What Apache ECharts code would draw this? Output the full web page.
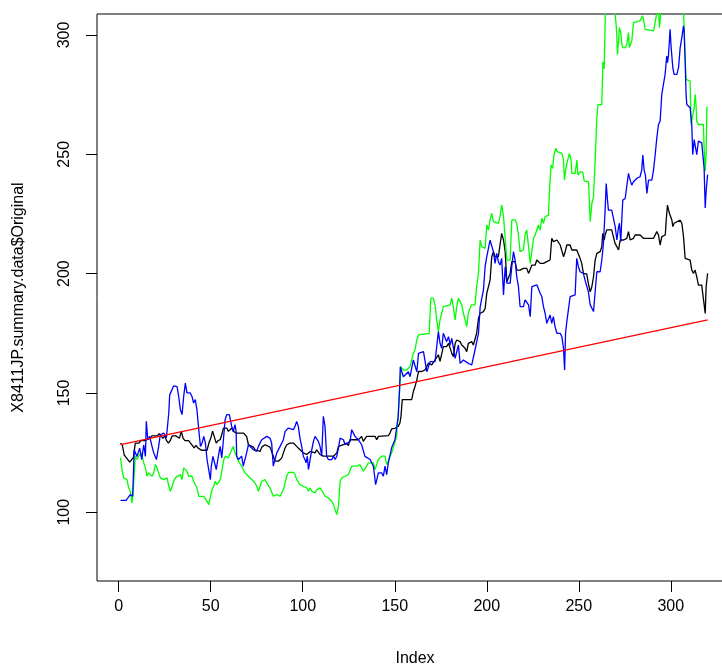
<!DOCTYPE html>
<html>
<head>
<meta charset="utf-8">
<script src="https://cdn.jsdelivr.net/npm/echarts@6/dist/echarts.min.js"></script>
<style>
  html, body { margin: 0; padding: 0; background: #fff; }
  #chart { width: 722px; height: 670px; }
</style>
</head>
<body>
<div id="chart"></div>
<script>
// tick labels
const xTicks = [0, 50, 100, 150, 200, 250, 300]
const yTicks = [100, 150, 200, 250, 300]

// [index, value]
const originalData = [
  [1,129],[2,128],[3,124],[4,123],[5,123],[6,121],[7,121],[8,123],[9,129],[11,129],[12,130],[14,130],[15,130],[17,131],[18,132],[19,132],[21,132],[22,133],[23,132],[24,131],[25,132],[26,130],[27,129],[28,130],[29,132],[31,132],[33,131],[34,134],[35,131],[36,130],[38,130],[39,129],[40,128],[41,127],[42,128],[43,127],[44,127],[45,126],[48,126],[49,129],[50,131],[51,134],[52,134],[53,129],[54,130],
  [55.1,130.4],[56,132.5],[56.9,135.3],[57.8,134.6],[58.7,135.3],[59.6,133.9],[60.5,134.6],[61.4,135.3],[62.3,133.9],[64.1,133.2],[65,133.5],[67.7,133.2],[68.6,132.5],[69.5,131.8],[70.5,128.3],[71.4,127.6],[73.2,127.3],[74.1,126.2],[75,125.5],[76.8,125.5],[77.7,127.3],[79.5,128.3],[80.4,128.3],[82.2,127.3],[83.1,125.5],[84,123.5],[84.9,121.4],[86.8,121.4],[87.7,122.1],[88.6,122.8],[89.5,124.9],[90.4,126.9],[91.3,128.3],[93.1,129],[94,128.3],[94.9,129],[96.7,127.6],[98.5,126.2],[100.3,124.9],[101.2,125.5],[102.2,124.2],[103.1,123.5],[104,125.5],[104.9,125.5],[106.7,124.9],[107.6,126.2],[108.5,125.5],[109.4,124.2],[111.2,123.5],[114.9,123.5],[115.8,122.8],[116.7,123.5],[117.6,122.8],[118.5,124.9],[119.4,127.6],[120.3,128.3],[122.1,128.3],[123.9,129],[124.8,127.9],[125.7,130.4],
  [126.6,130.4],[128.4,130.4],[130.2,130.4],[131.1,131.1],[132,131.8],[132.9,129.7],[133.8,128.9],[134.7,131.8],[135.6,132.1],[139.3,131.8],[140.2,130.4],[141.1,131.8],[146.5,132.1],[147.4,133.2],[148.3,134.9],[150.1,135.2],[151,134.9],[151.9,136],[152.8,137.4],[153.4,140.2],[153.8,144.4],[154.1,147.2],[157.4,147.2],[158.3,147.9],[159.2,147.2],[160.1,150.6],[161,152.7],[162,155.5],[162.9,159],[164.7,159],[166.5,159.7],[167.4,161.1],[168.3,162.5],[169.2,162.5],[170.1,161.8],[171,162.5],[171.9,163.9],[172.8,164.6],[173.7,166],[174.6,163.2],[175.5,162.5],
  [176.4,169.4],[178.2,169.4],[179.2,170.8],[180.1,168.7],[181,166.6],[181.9,165.2],[182.8,170.8],[183.7,172.2],[184.6,172.9],[185.5,171.5],[186.4,170.1],[187.3,169.4],[188.2,168.7],[189.1,167.3],[190,170.8],[191.8,171.5],[192.7,170.1],[193.6,170.8],[194.5,175],[195.5,181.3],
  [196.4,183.4],[198.2,184.1],[199.1,185.4],[200,191.7],[200.9,192.4],[201.8,197.3],[202.7,207.1],[203.6,209.2],[204.5,207.1],[206.3,207.1],[207.2,212],[208.1,216.9],[209.1,214.1],[210,209.2],[210.9,196.6],[211.8,197.3],[212.7,200.1],[213.6,205],[214.5,204.3],[215.4,205],[216.3,201.5],[217.2,202.2],[218.1,201.5],[219.9,202.2],[220.8,202.9],[221.7,202.2],[222.7,200.1],[223.6,199.4],[224.5,203.6],[225.4,202.9],[226.3,203.6],[227.2,205.7],[228.1,205],[229,204.3],[229.9,205],[230.8,204.3],[231.7,203.6],[232.6,205],[234.4,205.7],[235.3,214.8],[236.2,213.4],[237.1,212.7],[238.1,214.1],[239,213.4],[239.9,212],[240.8,212.7],[241.7,207.1],[242.6,209.2],[243.5,212],[245.3,212],[246.2,209.9],[247.1,209.2],[248.9,209.9],[249.8,209.2],
  [250.7,206.4],[251.6,204.3],[252.5,200.1],[254.3,199.9],[255.2,195.9],[256.2,192.4],[257.1,194.5],[258,198.7],[258.9,205.7],[259.8,208.5],[261.6,209.2],[262.5,211.3],[263,216.9],[263.8,214.1],[264.3,216.2],[265.2,218.3],[266.1,219],[267.9,218.3],[268.8,217.6],[269.7,212.7],[270.7,211.3],[271.6,209.9],[272.5,214.1],[274.3,214.1],[276.1,214.8],[277,217.6],[277.9,214.1],[279.7,214.8],[280.6,216.2],[283.3,216.2],[284.2,215.5],[285.1,214.8],[286,214.1],[287,214.8],[290.6,214.8],[291.5,215.5],[292.4,217.6],[293.3,216.2],[294.2,212],[295.1,215.5],[296,216.2],[297,216.2],[297.5,222.4],[298.2,228.7],[298.8,226.6],[299.3,225.2],[300,225.9],[300.6,222.4],[301.1,219.7],[301.8,221.1],[302.4,221.8],[305.1,222.4],[306,221.1],[306.9,215.5],[307.8,206.4],[308.7,206.4],[310.5,205.7],[311.4,201.5],[312.3,200.1],[313.2,201.5],[314.1,198.7],[315,195.2],[315.9,194.5],[316.8,195.2],[317.7,194.5],[318.7,183.3],[319.2,194.5],[320,200.1]
]

const greenData = [
  [1,122.8],[1.8,117.9],[2.7,114.4],[4.5,113.7],[5.4,110.2],[6.3,108.8],[7.2,103.9],[7.8,108.1],[8.5,116.5],[9,123.5],[9.9,122.1],[10.8,123.5],[11.4,122.8],[12.1,124.9],[12.7,123.5],[13.6,120.7],[14.5,118.6],[15.4,115.1],[16.3,116.5],[17.2,115.8],[18.1,115.1],[19,116.5],[19.9,120],[20.8,118.6],[21.7,116.5],[22.6,114.4],[23.5,115.1],[24.4,113.7],[26.3,114.4],[27.2,110.9],[28.1,108.8],[29,110.9],[29.9,113],[30.8,114.4],[31.7,115.1],[33.5,115.8],[34.4,113.7],[35.3,118.6],[36.2,119.3],[37.1,117.2],[38,115.1],[38.9,114.4],[39.8,115.1],[40.7,113],[41.6,112.3],[42.5,110.2],[43.5,106.7],[44.4,106],[46.2,106.7],[47.1,107.4],[48,104.6],[48.9,103.2],[49.8,103.9],[50.7,109.5],[51.6,110.9],[52.5,113],[53.4,111.6],[54.3,112.3],[55.2,113.7],[56.1,114.4],[57.1,122.1],[57.9,123.5],[58.9,123.5],
  [59.6,122.8],[60.5,122.8],[61.4,126.2],[62.3,127.6],[63.2,124.9],[64.1,123.5],[65,121.4],[65.9,120.7],[66.8,119.3],[67.7,118.6],[68.6,116.5],[69.5,115.8],[70.5,115.1],[71.4,115.8],[72.3,113.7],[73.2,113.7],[74.1,112.3],[75,110.9],[75.9,108.8],[76.8,108.8],[77.7,113],[78.6,113.7],[79.5,113.7],[80.4,112.3],[81.3,111.6],[82.2,110.2],[83.1,109.5],[84,106.7],[84.9,106.7],[85.9,107.4],[86.8,106.7],[87.7,106.7],[88.6,107.4],[89.5,109.5],[90.4,109.5],[91.3,115.1],[92.2,116.7],[95,116.7],[95.8,115.8],[96.7,113.7],[97.6,113],[98.5,111.6],[99.4,111.6],[100.3,110.9],[101.2,110.2],[102.2,110.2],[103.1,108.8],[104,110.2],[104.9,108.8],[105.8,108.1],[106.7,108.1],[107.6,109.5],[108.5,110.2],[109.4,110.2],[110.3,109.5],[111.2,108.1],[112.1,106.7],[113,106.7],[114,106],[114.9,105.3],[115.8,104.6],[116.7,103.2],[117.6,102.5],[118.5,99],[119.4,102.5],[120.3,113],[121.2,114.4],[122.1,114.4],[123,115.1],[123.9,115.8],[124.8,115.8],[125.7,116.5],
  [126.6,119.3],[129.3,119.3],[131.1,120],[132,120.7],[132.9,117.2],[133.8,117.9],[134.7,119.3],[135.6,120.7],[136.5,121.4],[138.4,120.7],[139.3,117.9],[140.2,120],[141.1,122.1],[142.9,123.5],[144.7,123.5],[145.6,120],[146.5,121.4],[147.4,123.5],[148.3,124.9],[149.2,127],[150.1,127.7],[151,131.8],[151.9,141.6],[152.4,148.6],[152.9,154.1],
  [153.4,161],[153.9,160.3],[154.7,159.6],[156.5,159.6],[157.4,160.3],[158.3,161],[159.2,163.8],[160.1,166.6],[161,168],[162,172.2],[162.9,174.3],[163.8,175],[168.7,175],[169.2,183.4],[169.6,189.7],[171,189.7],[171.9,186.9],[172.8,180.6],[173.7,175.7],[174.6,180.6],[175.5,183.4],[176.4,186.2],[177.3,186.9],[180.1,186.9],[181,189.7],[181.9,185.5],[182.8,180.6],[183.7,186.2],[184.6,189.7],[185.5,189.7],[186.4,186.9],[187.3,183.4],[188.2,180.6],[189.1,177.8],[190,183.4],[190.9,185.5],[191.8,186.9],[193.6,186.9],[194.5,194.6],[195.5,200.2],
  [196.4,214.1],[197.3,211.3],[198.2,210.6],[199.1,210.6],[200,220.4],[200.9,218.3],[201.8,222.5],[202.7,225.3],[203.6,221.8],[204.5,221.1],[206.3,221.1],[207.2,223.9],[208.1,228.8],[209.1,223.9],[210,214.8],[210.9,205.7],[212.7,205.7],[213.6,222.5],[215.4,222.5],[216.3,221.1],[217.2,216.2],[218.1,209.2],[219.9,209.9],[220.8,216.2],[221.7,218.3],[222.7,211.3],[223.6,204.3],[224.5,209.2],[225.4,214.8],[226.3,216.2],[227.2,218.3],[228.1,220.4],[229,218.3],[229.9,223.2],[230.8,221.1],[231.7,223.9],[233.5,224.5],
  [234.4,239.2],[234.9,245.5],[235.8,244.1],[236.5,249.7],[237.6,252.5],[238.3,251.1],[238.9,250.4],[240.8,250.4],[241.7,247.6],[242.2,239.2],[243.1,244.8],[243.8,245.5],[244.9,250.4],[245.3,251.1],[245.8,247.6],[246.2,242],[248,242],[249,247.6],[249.5,241.3],[250.8,242.7],[252.2,242.4],[252.9,238.9],[255.3,238.5],[256.2,221.8],[257.1,229.4],[258,232.2],[258.9,247.6],[259.8,265],[260.4,270.8],[262.5,270.8],[263.1,288.7],[263.8,285.9],[264.5,312],
  [266,318],[268,316],[269.7,308.7],[270.3,304.5],[270.7,298.9],[271,291.9],[271.6,297.5],[272.1,303.1],[272.8,301],[273.4,296.1],[273.9,294.7],[275.3,294.7],[276.1,296.1],[277,301],[277.5,294.7],[278.3,295.4],[278.8,297.5],[279.7,305.2],[280.6,305.9],[283.3,305.9],[284.2,306.6],[284.7,308],[285.5,305.2],[286,302.4],[287,301.7],[290.6,301.7],[291.5,305.2],[292.4,309.5],[293.3,311],[293.8,303.1],[294.2,305.9],[294.6,310],[297,313],[300,316],[304,313],[306.9,310],[307.2,304.5],[307.8,290.5],[308.3,281.4],[309.1,280.7],[310.5,280.7],[311,262.5],[311.9,262.5],[312.7,269.5],[313.2,275.1],[313.7,270.9],[314.1,263.9],[315,262.5],[317.7,262.5],[318.1,252.7],[318.7,242.9],[319.2,249.9],[319.6,269.5],[320,270]
]

const blueData = [
  [1,105],[4,105],[6.3,107.4],[7.6,106.7],[8.4,126.2],[9,126.9],[9.9,123.4],[11.4,126.9],[12.5,122.1],[13.6,128.3],[14.5,123.4],[15,138.1],[15.8,130.4],[16.8,131.8],[18.1,127.6],[19,124.9],[20.5,122.1],[21.7,127.6],[22.6,132.5],[24.5,133.2],[25.9,131.1],[27.2,141.6],[27.7,149.2],[28.4,150],[29.9,153],[31.7,152.7],[32.6,148.5],[33.5,143],[34.4,140.9],[35.3,148.5],[36.2,154.1],[37.1,150],[38.9,150],[39.8,148.5],[40.7,145.8],[41.6,147.2],[42.5,143],[43.5,134.6],[44.4,127.6],[45.3,129],[46.2,131.8],[47.1,129],[48,122.1],[48.9,117.9],[49.8,113.7],[50.3,119.2],[51.2,123.4],[51.9,123.4],[53,117.9],[54.3,124.2],
  [55.1,127.6],[56,122.8],[56.9,130.4],[57.8,138.8],[58.7,140.9],[60.1,140.9],[61.4,136],[62.3,133.9],[63.2,136.7],[63.8,133.9],[64.1,123.5],[65,122.1],[65.9,122.1],[66.8,123.5],[67.7,119.3],[68.6,119.3],[69.5,124.9],[70.5,128.3],[71.4,129],[73.2,126.2],[75,125.5],[75.9,127.6],[76.8,126.9],[77.7,130.4],[78.6,131.1],[80.4,131.8],[82.2,131.1],[83.1,129],[84,119.3],[84.9,122.1],[85.9,124.9],[87.7,127.6],[88.6,128.3],[89.5,130.4],[90.4,133.9],[91.3,134.6],[92.2,135.3],[94.9,134.6],[95.8,136],[96.7,138.1],[97.6,136],[98.5,131.1],[99.4,127.6],[100.3,123.5],[101.2,122.1],[101.8,120.7],[102.5,123.5],[103.1,117.9],[104,122.1],[104.9,126.2],[105.8,129.7],[106.7,131.8],[107.6,131.8],[108.5,129.7],[109.4,127.6],[110.3,123.5],[111.2,140.2],[112.1,136],[113,123.5],[113.9,122.1],[114.9,122.8],[115.8,122.1],[116.7,123.5],[117.6,122.1],[118.5,123.5],[119.4,126.9],[120.3,131.1],[122.1,130.4],[123,128.3],[123.9,129],[125.7,129.7],
  [126.6,134.6],[128.4,131.8],[130.2,130.4],[132,128.3],[133.8,123.4],[136.6,122.1],[138.4,119.3],[139.6,111.6],[141.1,116.5],[142.9,116.5],[143.8,115.1],[144.7,119.3],[145.6,115.8],[146.5,120.7],[148.3,127],[150.1,130.4],[151.9,140.2],[152.6,151.3],
  [153,161],[154.7,156.8],[157.4,158.9],[158.3,156.8],[160.1,163.8],[162,158.9],[162.9,166.6],[165.6,167.3],[167.4,158.9],[169.2,163.1],[171.9,163.1],[173.7,175.7],[174.6,170.8],[175.5,168.7],[176.4,175],[178.2,171.5],[179.2,173.6],[180.1,170.1],[181,172.9],[182.8,164.5],[184.6,170.1],[185.5,162.4],[187.3,163.8],[190,162.4],[191.8,161.7],[193.6,168],[194.5,168.7],[195.5,175],
  [196.4,186],[197.3,189.7],[198.2,193.2],[199.1,202.9],[200,207.1],[201.8,214],[202.7,214.8],[203.6,209.2],[204.5,204.3],[205.4,208.5],[206.3,205],[207.2,203.6],[208.1,206.4],[209.1,191.1],[210,202.9],[210.9,196],[212.7,196],[213.6,202.9],[214.5,209.2],[215.4,205.7],[216.3,198.7],[217.2,194.6],[218.1,186.2],[219.9,186.2],[220.8,189],[221.7,189],[222.7,186.9],[223.6,182],[224.5,194.6],[225.4,195.3],[227.2,195.3],[228.1,194.6],[229,191.8],[229.9,190.4],[230.8,186.2],[231.7,183.4],[232.6,179.2],[233.5,179.2],[234.4,182.7],[235.3,179.2],[236.2,182],[237.1,177.8],[238.1,175],[239.9,175],[240.8,173.6],[241.7,168.7],[242.3,159.6],[242.8,175],[243.5,179.9],[244.4,179.2],[245.3,190.4],[246.2,191.1],[248,191.1],[248.9,206.4],[249.8,202.9],
  [250.7,200.8],[252.5,200.1],[253.4,197.3],[254.3,197.3],[255.2,192.4],[256.2,186.9],[257.1,186.9],[258,184.1],[258.9,192.4],[259.8,200.8],[261.6,200.8],[262.5,205.7],[263.4,212.7],[264.3,226.6],[264.9,237.8],[265.6,230.8],[266.1,226.6],[267.9,226.6],[268.8,225.9],[269.8,219.6],[270.7,214.1],[271.6,219.6],[272.1,221.1],[272.8,213.4],[273.9,230.8],[275.2,231.5],[276.1,232.2],[277,242],[277.9,239.2],[278.8,237.1],[279.7,238.5],[281.5,239.9],[283.3,240.6],[284.2,243.4],[284.8,249.7],[285.5,243.4],[286.2,241.3],[287,233.6],[287.9,239.2],[289.7,239.2],[290.6,243.4],[291.5,249.7],
  [292.4,256.9],[293.3,262.5],[294.2,263.9],[295.1,275.1],[296,275.1],[296.9,283.5],[297.8,291.2],[298.2,288.4],[298.7,291.2],[299.3,298.2],[299.6,302.4],[300.2,294.7],[301.1,286.3],[301.8,283.5],[303.3,283.5],[304.2,286.3],[305.1,294.7],[306,298.9],[306.9,303.8],[307.2,302.4],[307.8,289.1],[308.3,275.1],[308.7,270.9],[310.5,269.5],[311.4,262.5],[311.9,249.9],[312.3,252.7],[312.7,256.2],[313.2,255.5],[314.1,249.9],[315,255.5],[316.8,254.8],[317.7,255.5],[318.1,244.3],[318.7,227.5],[319.2,234.5],[320,241.5]
]

// fitted trend line, its two ends
const trendData = [[1, 128.3], [320, 180.6]]

const axisFont = { color: '#000', fontSize: 16, fontFamily: 'Liberation Sans, Arial, sans-serif' }

const option = {
  animation: false,
  backgroundColor: '#fff',
  grid: {
    left: 97,
    top: 14,
    width: 636,
    height: 567,
    show: true,
    borderColor: '#000',
    borderWidth: 1,
    backgroundColor: 'transparent',
    containLabel: false,
    outerBoundsMode: 'none'
  },
  xAxis: {
    type: 'value',
    min: -11.8,
    max: 333.8,
    name: 'Index',
    nameLocation: 'middle',
    nameGap: 70,
    nameTextStyle: axisFont,
    axisLine: { show: false, onZero: false },
    splitLine: { show: false },
    axisTick: { show: true, length: 11, customValues: xTicks, lineStyle: { color: '#000' } },
    axisLabel: Object.assign({ customValues: xTicks, margin: 18 }, axisFont)
  },
  yAxis: {
    type: 'value',
    min: 71.2,
    max: 308.8,
    name: 'X8411JP.summary.data$Original',
    nameLocation: 'middle',
    nameGap: 70,
    nameTextStyle: axisFont,
    axisLine: { show: false, onZero: false },
    splitLine: { show: false },
    axisTick: { show: true, length: 11, customValues: yTicks, lineStyle: { color: '#000' } },
    axisLabel: Object.assign({ customValues: yTicks, rotate: 90, margin: 24 }, axisFont)
  },
  series: [
    { name: 'Original', type: 'line', data: originalData, showSymbol: false, symbol: 'none', lineStyle: { color: '#000000', width: 1.3 } },
    { name: 'green', type: 'line', data: greenData, showSymbol: false, symbol: 'none', lineStyle: { color: '#00ff00', width: 1.3 } },
    { name: 'blue', type: 'line', data: blueData, showSymbol: false, symbol: 'none', lineStyle: { color: '#0000ff', width: 1.3 } },
    { name: 'trend', type: 'line', data: trendData, showSymbol: false, symbol: 'none', lineStyle: { color: '#ff0000', width: 1.3 } }
  ]
}

const chart = echarts.init(document.getElementById('chart'), null, { renderer: 'canvas' })
chart.setOption(option)
</script>
</body>
</html>
